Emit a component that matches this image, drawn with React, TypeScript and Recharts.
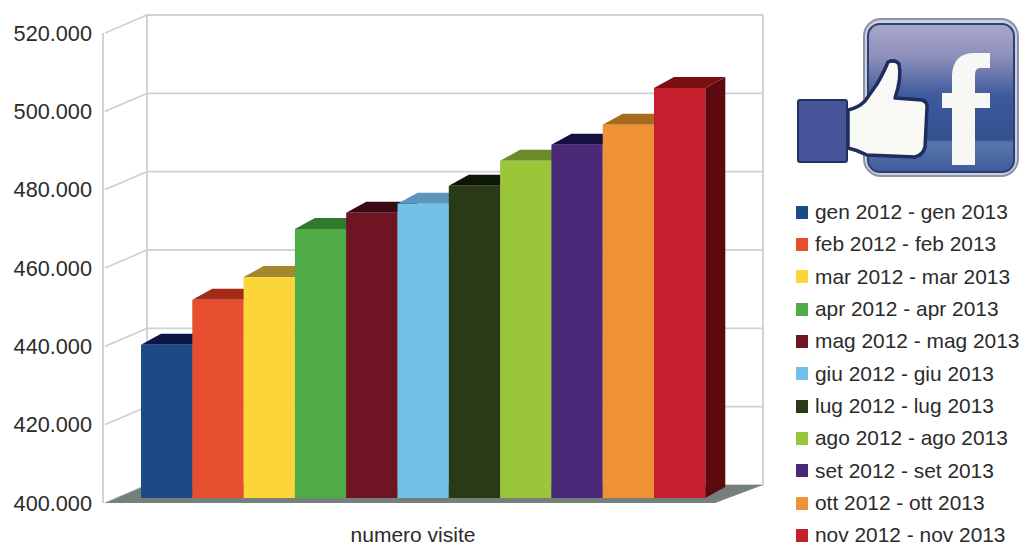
import { BarChart, Bar, XAxis, YAxis, CartesianGrid, Legend } from "recharts";

const periods = [
  "gen 2012 - gen 2013",
  "feb 2012 - feb 2013",
  "mar 2012 - mar 2013",
  "apr 2012 - apr 2013",
  "mag 2012 - mag 2013",
  "giu 2012 - giu 2013",
  "lug 2012 - lug 2013",
  "ago 2012 - ago 2013",
  "set 2012 - set 2013",
  "ott 2012 - ott 2013",
  "nov 2012 - nov 2013",
];
const visits = [439100, 450600, 456400, 468700, 472800, 475100, 479700, 486100, 490200, 495300, 504700];
const frontColors = ["#1c4a85", "#e64f2e", "#fbd53a", "#4eab47", "#6e1423", "#72c1e6", "#2a3a17", "#9cc63a", "#4a2a78", "#ef9236", "#c51f2d"];
const topColors = ["#0c1548", "#a52a17", "#a6882c", "#2f7a2f", "#3a0a14", "#5a96bd", "#0e1608", "#6a8c2c", "#14103f", "#a86a1c", "#7a0f12"];
const sideColors = ["#0f2c55", "#8c2a18", "#a88f28", "#2c6f2c", "#3d0a14", "#4a86a8", "#141e0a", "#62842a", "#221045", "#a5611e", "#5c0a10"];
const yTicks = [400000, 420000, 440000, 460000, 480000, 500000, 520000];
const category = "numero visite";

const W = 1022;
const H = 545;
const LEFT = 105;
const RIGHT = 721;
const TOP = 33;
const BOTTOM = 503;
// how far the back wall sits behind the front plane
const WALL_DX = 42;
const WALL_DY = 18;
// bars stand part way into the floor
const BAR_DX = 10;
const BAR_DY = 5;
const BAR_DEPTH_X = 20;
const BAR_DEPTH_Y = 11;
// recharts rounds the bar width down, this puts the lost fraction back
const BAR_EXTRA = 0.3;

const row: Record<string, string | number> = { name: category };
periods.forEach((p, i) => {
  row[p] = visits[i];
});
const data = [row];

const font = '"Liberation Sans", Arial, sans-serif';

function formatVisits(n: number): string {
  return String(n).replace(/(\d)(?=(\d{3})+$)/g, "$1.");
}

function WallLine(props: any) {
  const { x1, y1, x2 } = props;
  const bx = x1 + WALL_DX;
  const by = y1 - WALL_DY;
  return (
    <path
      key={props.key}
      d={`M${x1},${y1}L${bx},${by}L${x2 + WALL_DX},${by}`}
      fill="none"
      stroke="#d2d2d2"
      strokeWidth={1.8}
    />
  );
}

function Box3D(props: any, i: number) {
  const { x, y, height } = props;
  const width = props.width + BAR_EXTRA;
  const fx = x + BAR_DX + i * BAR_EXTRA;
  const fy = y - BAR_DY;
  const dx = BAR_DEPTH_X;
  const dy = BAR_DEPTH_Y;
  return (
    <g>
      <path
        d={`M${fx + width},${fy}L${fx + width + dx},${fy - dy}L${fx + width + dx},${fy + height - dy}L${fx + width},${fy + height}Z`}
        fill={sideColors[i]}
      />
      <path
        d={`M${fx},${fy}L${fx + dx},${fy - dy}L${fx + width + dx},${fy - dy}L${fx + width},${fy}Z`}
        fill={topColors[i]}
      />
      <rect x={fx} y={fy} width={width} height={height} fill={frontColors[i]} />
    </g>
  );
}

function VisitLegend({ payload }: any) {
  return (
    <div>
      {(payload || []).map((item: any, i: number) => (
        <div
          key={item.value}
          style={{ height: 20, marginBottom: i < periods.length - 1 ? 12.35 : 0, display: "flex", alignItems: "center" }}
        >
          <span style={{ width: 12, height: 13, background: item.color, marginRight: 7, flexShrink: 0 }} />
          <span style={{ fontFamily: font, fontSize: 20.9, lineHeight: "20px", color: "#2b2b2b", whiteSpace: "nowrap" }}>
            {item.value}
          </span>
        </div>
      ))}
    </div>
  );
}

function FacebookLike() {
  return (
    <svg width={W} height={H} style={{ position: "absolute", left: 0, top: 0, pointerEvents: "none" }}>
      <defs>
        <linearGradient id="fbPanel" x1="0" y1="0" x2="0" y2="1">
          <stop offset="0%" stopColor="#a9a7cb" />
          <stop offset="22%" stopColor="#8d90b9" />
          <stop offset="48%" stopColor="#3f5a9d" />
          <stop offset="78%" stopColor="#34508f" />
          <stop offset="80%" stopColor="#5a76ad" />
          <stop offset="100%" stopColor="#3f5a9a" />
        </linearGradient>
      </defs>
      <rect x={864} y={19} width={154} height={157} rx={17} fill="#ccd0dc" stroke="#8d92ab" strokeWidth={2} />
      <rect x={868} y={24} width={146} height={148} rx={12} fill="url(#fbPanel)" stroke="#2c3f78" strokeWidth={2} />
      <path
        d="M952,165L952,108L942,108L942,93L952,93L952,75Q953,54 973,53L990,53L990,68L980,68Q975,68 975,75L975,93L990,93L990,108L975,108L975,165Z"
        fill="#f7f8f4"
      />
      <rect x={798} y={100} width={49} height={62} rx={2} fill="#47549a" stroke="#26305f" strokeWidth={2} />
      <path
        d="M848,110Q858,108 865,101L877,84Q884,72 888,62Q895,59 899,64Q902,78 895,98L922,100Q928,102 927,108L925,147Q923,155 915,157L867,155Q857,150 848,148Z"
        fill="#f8f8f4"
        stroke="#1f2c5e"
        strokeWidth={3.5}
        strokeLinejoin="round"
      />
    </svg>
  );
}

export default function App() {
  return (
    <div style={{ position: "absolute", left: 0, top: 0, width: W, height: H, overflow: "hidden", background: "#fff" }}>
      <BarChart
        width={W}
        height={H}
        data={data}
        margin={{ left: 0, right: W - RIGHT, top: TOP, bottom: 0 }}
        barGap={0}
        barCategoryGap={26}
      >
        <CartesianGrid vertical={false} horizontal={WallLine} />
        <path
          d={`M${LEFT - 2},${TOP}V${BOTTOM}M${LEFT + WALL_DX},${TOP - WALL_DY}V${BOTTOM - WALL_DY}M${RIGHT + WALL_DX},${TOP - WALL_DY}V${BOTTOM - WALL_DY}`}
          fill="none"
          stroke="#cfcfcf"
          strokeWidth={1.8}
        />
        <path
          d={`M${LEFT},${BOTTOM}L${LEFT + WALL_DX},${BOTTOM - WALL_DY}L${RIGHT + WALL_DX},${BOTTOM - WALL_DY}L${RIGHT - 6},${BOTTOM}Z`}
          fill="#75807c"
        />
        <XAxis
          dataKey="name"
          height={H - BOTTOM}
          axisLine={false}
          tickLine={false}
          tickMargin={18}
          tick={{ fontFamily: font, fontSize: 21, fill: "#2b2b2b" }}
        />
        <YAxis
          width={LEFT}
          domain={[yTicks[0], yTicks[yTicks.length - 1]]}
          ticks={yTicks}
          tickFormatter={formatVisits}
          axisLine={false}
          tickLine={false}
          tickMargin={7}
          tick={{ fontFamily: font, fontSize: 21.7, fill: "#2b2b2b" }}
        />
        <Legend
          content={<VisitLegend />}
          layout="vertical"
          align="center"
          verticalAlign="middle"
          itemSorter={null}
          wrapperStyle={{ position: "absolute", left: 796, top: 202, width: 226, height: 343, bottom: "auto" }}
        />
        {periods.map((p, i) => (
          <Bar
            key={p}
            dataKey={p}
            name={p}
            fill={frontColors[i]}
            isAnimationActive={false}
            shape={(props: any) => Box3D(props, i)}
          />
        ))}
      </BarChart>
      <FacebookLike />
    </div>
  );
}
